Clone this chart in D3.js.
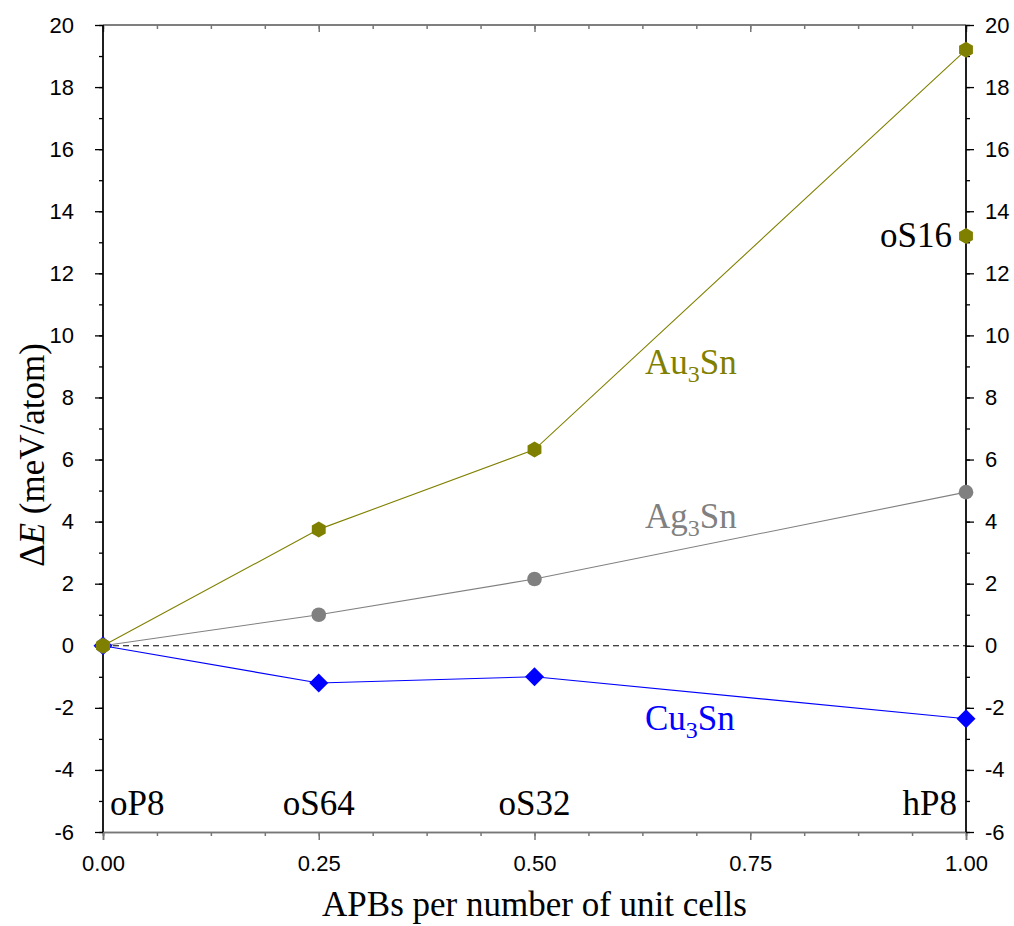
<!DOCTYPE html>
<html>
<head>
<meta charset="utf-8">
<script src="https://cdn.jsdelivr.net/npm/d3@7"></script>
<style>
  body { margin: 0; background: #fff; }
  svg { display: block; }
  .tick text { font-family: "Liberation Sans", Arial, sans-serif; font-size: 22px; fill: #000; }
  .serif { font-family: "Liberation Serif", "Times New Roman", serif; }
</style>
</head>
<body>
<svg width="1014" height="926"></svg>
<script>
// data
const apbs = [0, 0.25, 0.5, 1];
const structures = ["oP8", "oS64", "oS32", "hP8"];
const au3sn = [0, 3.75, 6.32, 19.2];
const ag3sn = [0, 1.0, 2.15, 4.95];
const cu3sn = [0, -1.2, -1.0, -2.35];
const oS16 = { x: 1, y: 13.2 };
const xTicks = [0, 0.25, 0.5, 0.75, 1];
const yTicks = [-6, -4, -2, 0, 2, 4, 6, 8, 10, 12, 14, 16, 18, 20];

const svg = d3.select("svg");
const mLeft = 103, mRight = 966, mTop = 25, mBottom = 832;
const fs = 35;

const x = d3.scaleLinear().domain([0, 1]).range([mLeft, mRight]);
const y = d3.scaleLinear().domain([-6, 20]).range([mBottom, mTop]);

const xMinor = d3.range(0, 1.0001, 0.0625);
const yMinor = d3.range(-6, 20.001, 1);
const plain = d => String(d);

// zero line
svg.append("line")
  .attr("x1", x(0)).attr("x2", x(1))
  .attr("y1", y(0)).attr("y2", y(0))
  .attr("stroke", "#000").attr("stroke-width", 1)
  .attr("stroke-dasharray", "6,4");

// bottom axis (gray)
const gB = svg.append("g").attr("transform", `translate(0,${mBottom})`);
gB.call(d3.axisBottom(x).tickValues(xMinor).tickSize(4).tickFormat(""));
gB.append("g").call(d3.axisBottom(x).tickValues(xTicks).tickSize(8).tickPadding(10)
  .tickFormat(d3.format(".2f")));
gB.selectAll("path, line").attr("stroke", "#777").attr("stroke-width", 1.5);
gB.selectAll(".tick text").attr("dy", "0.95em");

// top axis (inward ticks)
const gT = svg.append("g").attr("transform", `translate(0,${mTop})`);
gT.call(d3.axisBottom(x).tickValues(xMinor).tickSize(4).tickFormat(""));
gT.append("g").call(d3.axisBottom(x).tickValues(xTicks).tickSize(7).tickFormat(""));
gT.selectAll("path, line").attr("stroke", "#777").attr("stroke-width", 1.5);
gT.selectAll("path").attr("d", `M${mLeft},0H${mRight}`);

// left axis
const gL = svg.append("g").attr("transform", `translate(${mLeft},0)`);
gL.call(d3.axisLeft(y).tickValues(yMinor).tickSize(4).tickFormat(""));
gL.append("g").call(d3.axisLeft(y).tickValues(yTicks).tickSize(8).tickPadding(21).tickFormat(plain));
gL.selectAll("path, line").attr("stroke", "#000").attr("stroke-width", 1.3);

// right axis
const gR = svg.append("g").attr("transform", `translate(${mRight},0)`);
gR.call(d3.axisRight(y).tickValues(yMinor).tickSize(4).tickFormat(""));
gR.append("g").call(d3.axisRight(y).tickValues(yTicks).tickSize(8).tickPadding(11).tickFormat(plain));
gR.selectAll("path, line").attr("stroke", "#000").attr("stroke-width", 1.3);
gR.selectAll(".domain").attr("d", `M0,${mTop}V${mBottom}`);
gL.selectAll(".domain").attr("d", `M0,${mTop}V${mBottom}`);

// series
const line = d3.line().x((d, i) => x(apbs[i])).y(d => y(d));

function hexPath(r) {
  const pts = d3.range(6).map(k => {
    const a = Math.PI / 3 * k - Math.PI / 2;
    return [r * Math.cos(a), r * Math.sin(a)];
  });
  return "M" + pts.map(p => p.join(",")).join("L") + "Z";
}

const series = [
  { name: "Cu", values: cu3sn, color: "#0000ff", shape: d3.symbol(d3.symbolSquare, 180)(), rot: 45 },
  { name: "Ag", values: ag3sn, color: "#808080", shape: d3.symbol(d3.symbolCircle, 168)(), rot: 0 },
  { name: "Au", values: au3sn, color: "#808000", shape: hexPath(8), rot: 0 }
];

series.forEach(s => {
  svg.append("path")
    .attr("d", line(s.values))
    .attr("fill", "none")
    .attr("stroke", s.color)
    .attr("stroke-width", 1.1);
});

series.forEach(s => {
  svg.append("g").selectAll("path")
    .data(s.values)
    .join("path")
    .attr("transform", (d, i) => `translate(${x(apbs[i])},${y(d)}) rotate(${s.rot})`)
    .attr("d", s.shape)
    .attr("fill", s.color);
});

// extra oS16 point
svg.append("path")
  .attr("transform", `translate(${x(oS16.x)},${y(oS16.y)})`)
  .attr("d", hexPath(8))
  .attr("fill", "#808000");

// compound labels
const labels = [
  { text: "Au", color: "#808000", x: 0.628, y: 8.75 },
  { text: "Ag", color: "#808080", x: 0.628, y: 3.8 },
  { text: "Cu", color: "#0000ff", x: 0.628, y: -2.7 }
];
labels.forEach(l => {
  const t = svg.append("text").attr("class", "serif")
    .attr("x", x(l.x)).attr("y", y(l.y))
    .attr("font-size", fs).attr("fill", l.color);
  t.append("tspan").text(l.text);
  t.append("tspan").text("3").attr("font-size", 24).attr("dy", 8);
  t.append("tspan").text("Sn").attr("dy", -8);
});

// structure labels
const sAnchor = ["start", "middle", "middle", "end"];
const sOffset = [7, 0, 0, -9];
structures.forEach((s, i) => {
  svg.append("text").attr("class", "serif")
    .attr("x", x(apbs[i]) + sOffset[i]).attr("y", y(-5.45))
    .attr("text-anchor", sAnchor[i])
    .attr("font-size", fs).attr("fill", "#000")
    .text(s);
});
svg.append("text").attr("class", "serif")
  .attr("x", x(oS16.x) - 14).attr("y", y(oS16.y) + 11)
  .attr("text-anchor", "end")
  .attr("font-size", fs).attr("fill", "#000")
  .text("oS16");

// axis titles
svg.append("text").attr("class", "serif")
  .attr("x", (mLeft + mRight) / 2).attr("y", 916)
  .attr("text-anchor", "middle").attr("font-size", fs)
  .text("APBs per number of unit cells");

const yt = svg.append("text").attr("class", "serif")
  .attr("transform", `translate(44,455) rotate(-90)`)
  .attr("text-anchor", "middle").attr("font-size", fs);
yt.append("tspan").text("Δ");
yt.append("tspan").text("E").attr("font-style", "italic");
yt.append("tspan").text(" (meV/atom)");
</script>
</body>
</html>
